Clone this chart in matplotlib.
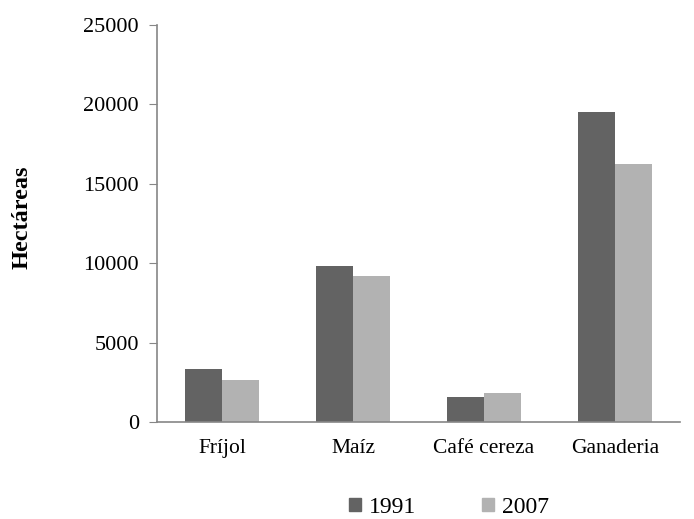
import numpy as np
import matplotlib.pyplot as plt
from matplotlib.patches import Patch

categories = ['Fríjol', 'Maíz', 'Café cereza', 'Ganaderia']
years = ['1991', '2007']
values_1991 = [3330, 9800, 1560, 19520]
values_2007 = [2620, 9200, 1850, 16250]
yticks = [0, 5000, 10000, 15000, 20000, 25000]

colors = ['#636363', '#b2b2b2']
font = 'Liberation Serif'

fig = plt.figure(figsize=(6.94, 5.19), dpi=100)
ax = fig.add_axes([0.226, 0.187, 0.754, 0.765])

x = np.arange(len(categories))
w = 0.283
ax.bar(x - w / 2, values_1991, w, color=colors[0])
ax.bar(x + w / 2, values_2007, w, color=colors[1])

ax.set_xlim(-0.5, len(categories) - 0.5)
ax.set_ylim(0, 25000)
ax.set_yticks(yticks)
ax.set_yticklabels([str(t) for t in yticks], fontsize=16, family=font)
ax.set_xticks(x)
ax.set_xticklabels(categories, fontsize=15.5, family=font)
ax.tick_params(axis='x', length=0, pad=12)
ax.tick_params(axis='y', length=6, color='#868686', pad=7)

for s in ['top', 'right']:
    ax.spines[s].set_visible(False)
for s in ['left', 'bottom']:
    ax.spines[s].set_color('#868686')
    ax.spines[s].set_linewidth(1.2)

ax.set_ylabel('Hectáreas', fontsize=17.5, fontweight='bold', family=font)
ax.yaxis.set_label_coords(-0.238, 0.515)

handles = [Patch(color=c, label=y) for c, y in zip(colors, years)]
fig.legend(handles=handles, loc='center', bbox_to_anchor=(0.647, 0.022), ncol=2,
           frameon=False, prop={'family': font, 'size': 17},
           handlelength=0.5, handleheight=0.5, handletextpad=0.35, columnspacing=2.8)

fig.savefig('out.png', dpi=100)
